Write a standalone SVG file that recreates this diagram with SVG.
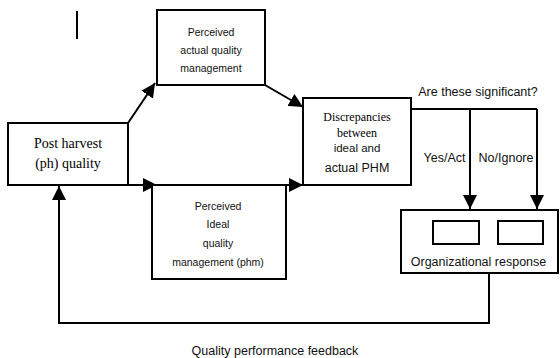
<svg xmlns="http://www.w3.org/2000/svg" width="560" height="358" viewBox="0 0 560 358">
  <defs>
    <marker id="arrow" viewBox="0 0 10 10" refX="10" refY="5" markerUnits="userSpaceOnUse" markerWidth="14" markerHeight="14" orient="auto">
      <path d="M0,0 L10,5 L0,10 Z" fill="#000"/>
    </marker>
    <style>
      .box { fill: #fff; stroke: #000; stroke-width: 2; }
      .line { fill: none; stroke: #000; stroke-width: 2; }
      .serif { font-family: "Liberation Serif", "Times New Roman", serif; fill: #000; text-anchor: middle; }
      .sans { font-family: "Liberation Sans", Arial, sans-serif; fill: #111; text-anchor: middle; }
    </style>
  </defs>

  <rect width="560" height="358" fill="#fff"/>

  <!-- text cursor mark -->
  <line x1="77" y1="11" x2="77" y2="39" stroke="#000" stroke-width="2"/>

  <g id="connectors">
    <line class="line" x1="128" y1="123" x2="155" y2="83" marker-end="url(#arrow)"/>
    <line class="line" x1="265" y1="85" x2="303" y2="107" marker-end="url(#arrow)"/>
    <line class="line" x1="128" y1="185" x2="157" y2="185" marker-end="url(#arrow)"/>
    <line class="line" x1="286" y1="185" x2="303" y2="185" marker-end="url(#arrow)"/>
    <polyline class="line" points="411,109 537,109"/>
    <line class="line" x1="470" y1="109" x2="470" y2="209" marker-end="url(#arrow)"/>
    <line class="line" x1="537" y1="109" x2="537" y2="209" marker-end="url(#arrow)"/>
    <polyline class="line" points="489,273 489,323 59,323 59,186" marker-end="url(#arrow)"/>
    <text class="sans" x="478" y="96" font-size="12.5">Are these significant?</text>
    <text class="sans" x="444.5" y="162" font-size="12.5">Yes/Act</text>
    <text class="sans" x="506" y="162" font-size="12.5">No/Ignore</text>
    <text class="sans" x="275" y="355" font-size="12.5">Quality performance feedback</text>
  </g>

  <g id="post-harvest">
    <rect class="box" x="8" y="123" width="120" height="62"/>
    <text class="serif" x="68" y="148" font-size="14">Post harvest</text>
    <text class="serif" x="68" y="168" font-size="14">(ph) quality</text>
  </g>

  <g id="perceived-actual">
    <rect class="box" x="157" y="10" width="108" height="75"/>
    <text class="sans" x="211" y="36" font-size="10.5">Perceived</text>
    <text class="sans" x="211" y="54" font-size="10.5">actual quality</text>
    <text class="sans" x="211" y="72" font-size="10.5">management</text>
  </g>

  <g id="perceived-ideal">
    <rect class="box" x="152" y="185" width="134" height="94"/>
    <text class="sans" x="218" y="210" font-size="10.5">Perceived</text>
    <text class="sans" x="218" y="228" font-size="10.5">Ideal</text>
    <text class="sans" x="218" y="247" font-size="10.5">quality</text>
    <text class="sans" x="218" y="266" font-size="10.5">management (phm)</text>
  </g>

  <g id="discrepancies">
    <rect class="box" x="303" y="98" width="108" height="87"/>
    <text class="serif" x="357" y="121" font-size="12">Discrepancies</text>
    <text class="serif" x="357" y="137" font-size="12">between</text>
    <text class="sans" x="357" y="152" font-size="11.5">ideal and</text>
    <text class="sans" x="357" y="172" font-size="12.5">actual PHM</text>
  </g>

  <g id="organizational-response">
    <rect class="box" x="401" y="210" width="157" height="63"/>
    <rect class="box" x="433" y="221" width="46" height="23"/>
    <rect class="box" x="498" y="221" width="45" height="23"/>
    <text class="sans" x="478.5" y="266" font-size="12.5">Organizational response</text>
  </g>
</svg>
